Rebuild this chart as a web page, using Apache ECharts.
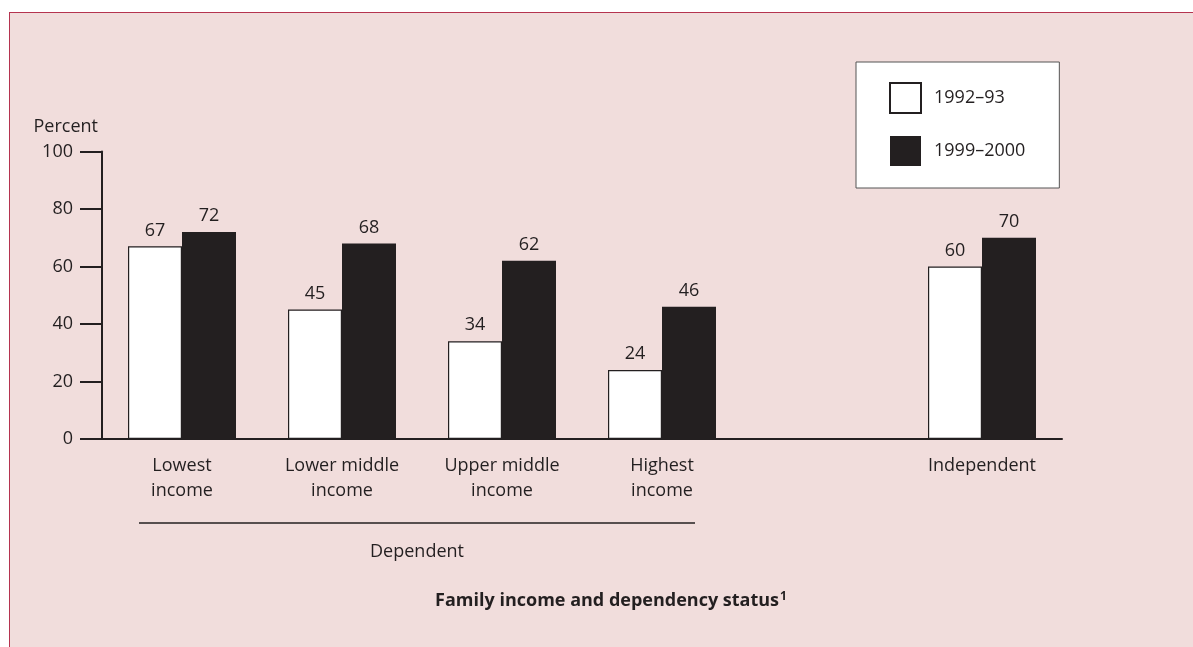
<!DOCTYPE html>
<html>
<head>
<meta charset="utf-8">
<script src="https://cdn.jsdelivr.net/npm/echarts@6/dist/echarts.min.js"></script>
<style>
  html, body { margin: 0; padding: 0; background: #ffffff; }
  #frame { position: absolute; left: 9px; top: 12px; width: 1184px; height: 635px;
           background: #f1dddc; border-top: 1.5px solid #b5334f; border-left: 1.5px solid #b5334f; box-sizing: border-box; }
  #chart { position: absolute; left: 0; top: 0; width: 1193px; height: 647px; }
</style>
</head>
<body>
<div id="frame"></div>
<div id="chart"></div>
<script>
const categories = ['Lowest\nincome', 'Lower middle\nincome', 'Upper middle\nincome', 'Highest\nincome', '', 'Independent'];
const seriesNames = ['1992–93', '1999–2000'];
const values1992 = [67, 45, 34, 24, '-', 60];
const values1999 = [72, 68, 62, 46, '-', 70];
const yTicks = { min: 0, max: 100, interval: 20 };
const axisName = 'Percent';
const groupLabel = 'Dependent';
const titleText = 'Family income and dependency status';
const titleSup = '1';

const ink = '#231f20';
const fontFamily = '"Open Sans", "Noto Sans", sans-serif';

const chart = echarts.init(document.getElementById('chart'), null, { renderer: 'canvas' });

const labelCfg = { show: true, position: 'top', distance: 7, color: ink, fontSize: 18, fontFamily: fontFamily };

const option = {
  backgroundColor: 'transparent',
  animation: false,
  textStyle: { fontFamily: fontFamily },
  title: {
    text: '{t|' + titleText + '}{s|' + titleSup + '}',
    left: 606, top: 586, textAlign: 'center',
    textStyle: {
      rich: {
        t: { fontSize: 18, fontWeight: 'bold', color: ink, fontFamily: fontFamily },
        s: { fontSize: 12, fontWeight: 'bold', color: ink, fontFamily: fontFamily, verticalAlign: 'top', padding: [0, 0, 8, 1] }
      }
    }
  },
  legend: {
    orient: 'vertical',
    left: 856, top: 62,
    padding: [20, 34, 22, 33],
    itemWidth: 31, itemHeight: 30, itemGap: 22,
    icon: 'rect',
    backgroundColor: '#ffffff',
    borderColor: '#555555', borderWidth: 1,
    textStyle: { fontSize: 18, color: ink, fontFamily: fontFamily, padding: [0, 0, 0, 8] },
    data: seriesNames
  },
  grid: { left: 102, top: 151.5, width: 960, height: 287.5, containLabel: false },
  xAxis: {
    type: 'category',
    data: categories,
    boundaryGap: true,
    axisLine: { show: true, lineStyle: { color: ink, width: 2 } },
    axisTick: { show: false },
    axisLabel: { color: ink, fontSize: 18, lineHeight: 25, margin: 14, interval: 0, fontFamily: fontFamily }
  },
  yAxis: {
    type: 'value',
    min: yTicks.min, max: yTicks.max, interval: yTicks.interval,
    name: axisName,
    nameLocation: 'end',
    nameGap: 16,
    nameTextStyle: { color: ink, fontSize: 18, align: 'right', padding: [0, 4, 0, 0], fontFamily: fontFamily },
    axisLine: { show: true, lineStyle: { color: ink, width: 2 } },
    axisTick: { show: true, inside: false, length: 22, lineStyle: { color: ink, width: 2 } },
    axisLabel: { color: ink, fontSize: 18, margin: 29, fontFamily: fontFamily },
    splitLine: { show: false }
  },
  series: [
    {
      name: seriesNames[0], type: 'bar', data: values1992,
      barWidth: 54, barGap: '0%',
      itemStyle: { color: '#ffffff', borderColor: ink, borderWidth: 1.2 },
      label: labelCfg
    },
    {
      name: seriesNames[1], type: 'bar', data: values1999,
      barWidth: 54, barGap: '0%',
      itemStyle: { color: ink },
      label: labelCfg
    }
  ]
};
chart.setOption(option);

// Group bracket under the dependent categories, positioned from the axis scale
const x0 = chart.convertToPixel({ xAxisIndex: 0 }, 0);
const x3 = chart.convertToPixel({ xAxisIndex: 0 }, 3);
const lineLeft = x0 - 43, lineRight = x3 + 33;
chart.setOption({
  graphic: [
    { type: 'line', shape: { x1: lineLeft, y1: 523, x2: lineRight, y2: 523 }, style: { stroke: ink, lineWidth: 1.5 } },
    { type: 'text', x: (lineLeft + lineRight) / 2, y: 552,
      style: { text: groupLabel, fill: ink, fontSize: 18, fontFamily: fontFamily, align: 'center', verticalAlign: 'middle' } }
  ]
});
</script>
</body>
</html>
